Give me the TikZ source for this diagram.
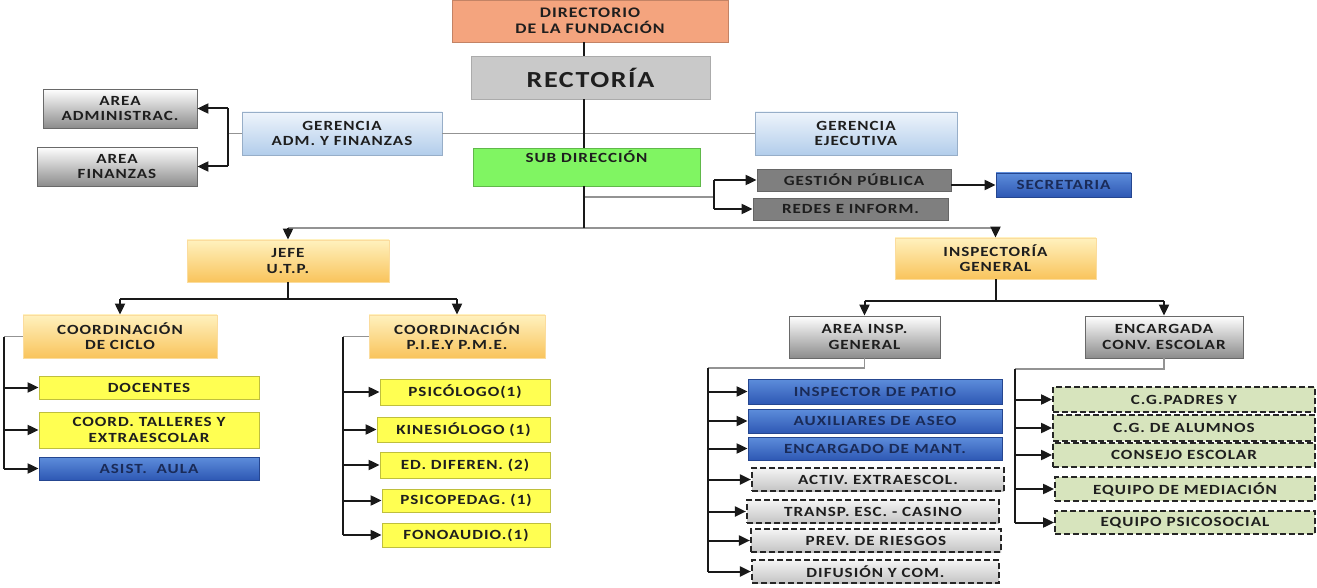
\documentclass[tikz,border=0pt]{standalone}
\usepackage{fontspec}
\setmainfont{Carlito}[FakeStretch=1.22, LetterSpace=7]
\usepackage{tikz}
\usetikzlibrary{arrows.meta}
\definecolor{dirorange}{HTML}{F4A47E}
\definecolor{recgray}{HTML}{C9C9C9}
\definecolor{gertop}{HTML}{EEF4FB}
\definecolor{gerbot}{HTML}{B2CDEB}
\definecolor{subgreen}{HTML}{80F562}
\definecolor{gpgray}{HTML}{7F7F7F}
\definecolor{bluetop}{HTML}{5D8DDB}
\definecolor{bluebot}{HTML}{2E58B4}
\definecolor{navytext}{HTML}{1A2B58}
\definecolor{otop}{HTML}{FFF1BE}
\definecolor{obot}{HTML}{F9C45C}
\definecolor{yel}{HTML}{FFFF52}
\definecolor{gbot}{HTML}{8C8C8C}
\definecolor{ltop}{HTML}{F4F4F4}
\definecolor{lbot}{HTML}{C4C4C4}
\definecolor{grn}{HTML}{D7E4BD}
\definecolor{textdark}{HTML}{1E1E1E}

\begin{document}
\begin{tikzpicture}[x=0.5pt, y=-0.5pt,
  base/.style={align=center, inner sep=1pt, line width=0.4pt, text=textdark,
    font=\fontsize{7}{7.6}\selectfont\bfseries},
  dirbox/.style={base, fill=dirorange, draw=dirorange!80!black,
    font=\fontsize{7.3}{7.8}\selectfont\bfseries},
  recbox/.style={base, fill=recgray, draw=recgray!85!black,
    font=\fontsize{11.5}{12}\selectfont\bfseries},
  gerbox/.style={base, top color=gertop, bottom color=gerbot, draw=gerbot!85!black},
  subbox/.style={base, fill=subgreen, draw=subgreen!75!black, text height=5pt, text depth=9pt},
  gpbox/.style={base, fill=gpgray, draw=gpgray!80!black},
  bluebox/.style={base, top color=bluetop, bottom color=bluebot, draw=bluebot!80!black, text=navytext},
  obox/.style={base, top color=otop, bottom color=obot, draw=obot!60!white},
  ybox/.style={base, fill=yel, draw=yel!75!black},
  gbox/.style={base, top color=white, bottom color=gbot, draw=gbot!75!black},
  dbox/.style={base, top color=ltop, bottom color=lbot, draw=black!85, line width=1.1pt,
    dash pattern=on 3pt off 1.5pt},
  grbox/.style={base, fill=grn, draw=black!85, line width=0.9pt,
    dash pattern=on 3pt off 1.5pt},
  conn/.style={line width=1pt, draw=black!90},
  thin/.style={line width=0.6pt, draw=gray!85},
  arr/.style={conn, -{Triangle[length=5.5pt,width=5pt]}}]
\useasboundingbox (0,0) rectangle (1317,588);
% Top levels
\node[dirbox, minimum width=138pt, minimum height=21pt] (dir) at (590,21) {DIRECTORIO\\DE LA FUNDACIÓN};
\node[recbox, minimum width=119.5pt, minimum height=21.5pt] (rec) at (590.5,77.5) {RECTORÍA};
\node[gerbox, minimum width=100pt, minimum height=21.5pt] (gadm) at (342,133.5) {GERENCIA\\ADM. Y FINANZAS};
\node[gerbox, minimum width=101pt, minimum height=21.5pt] (gej) at (856,133.5) {GERENCIA\\EJECUTIVA};
\node[gbox, minimum width=77pt, minimum height=19.5pt] (aadm) at (120,108.5) {AREA\\ADMINISTRAC.};
\node[gbox, minimum width=80pt, minimum height=19.5pt] (afin) at (117,166.5) {AREA\\FINANZAS};
\node[subbox, minimum width=113.5pt, minimum height=19pt] (sub) at (586.5,167) {SUB DIRECCIÓN};
\node[gpbox, minimum width=97pt, minimum height=11pt] (gp) at (854,180) {GESTIÓN PÚBLICA};
\node[gpbox, minimum width=97.5pt, minimum height=11pt] (redes) at (850.5,209) {REDES E INFORM.};
\node[bluebox, minimum width=67.5pt, minimum height=12pt] (secr) at (1063.5,185) {SECRETARIA};
% Second level
\node[obox, minimum width=101pt, minimum height=21pt] (jefe) at (288,261) {JEFE\\U.T.P.};
\node[obox, minimum width=100.5pt, minimum height=20.5pt] (insp) at (995.5,258.5) {INSPECTORÍA\\GENERAL};
\node[obox, minimum width=97pt, minimum height=21.5pt] (ciclo) at (120,336.5) {COORDINACIÓN\\DE CICLO};
\node[obox, minimum width=88pt, minimum height=21.5pt] (pie) at (457,336.5) {COORDINACIÓN\\P.I.E.Y P.M.E.};
\node[gbox, minimum width=75.5pt, minimum height=21pt] (ainsp) at (864.5,337) {AREA INSP.\\GENERAL};
\node[gbox, minimum width=79pt, minimum height=21pt] (enc) at (1164,337) {ENCARGADA\\CONV. ESCOLAR};
% U.T.P. units
\node[ybox, minimum width=110pt, minimum height=11.5pt] (doc) at (149,387.5) {DOCENTES};
\node[ybox, minimum width=110pt, minimum height=18pt] (tall) at (149,430) {COORD. TALLERES Y\\EXTRAESCOLAR};
\node[bluebox, minimum width=110pt, minimum height=11.5pt] (asist) at (149,468.5) {ASIST.~~AULA};
\node[ybox, minimum width=85pt, minimum height=13pt] (psic) at (465,392) {PSICÓLOGO(1)};
\node[ybox, minimum width=86.5pt, minimum height=12.5pt] (kine) at (463.5,429.5) {KINESIÓLOGO (1)};
\node[ybox, minimum width=85pt, minimum height=13pt] (edd) at (465,465) {ED. DIFEREN. (2)};
\node[ybox, minimum width=84pt, minimum height=11.5pt] (psicop) at (466,500.5) {PSICOPEDAG. (1)};
\node[ybox, minimum width=84pt, minimum height=12pt] (fono) at (466,535) {FONOAUDIO.(1)};
% Inspectoria units
\node[bluebox, minimum width=127pt, minimum height=12.5pt] (ipat) at (875,391.5) {INSPECTOR DE PATIO};
\node[bluebox, minimum width=127pt, minimum height=12pt] (aux) at (875,421) {AUXILIARES DE ASEO};
\node[bluebox, minimum width=127pt, minimum height=11.5pt] (mant) at (875,448.5) {ENCARGADO DE MANT.};
\node[dbox, minimum width=126pt, minimum height=11.5pt] (activ) at (878,479.5) {ACTIV. EXTRAESCOL.};
\node[dbox, minimum width=126pt, minimum height=11.5pt] (transp) at (873,511.5) {TRANSP. ESC. - CASINO};
\node[dbox, minimum width=125pt, minimum height=11.5pt] (prev) at (876,540.5) {PREV. DE RIESGOS};
\node[dbox, minimum width=123.5pt, minimum height=11.5pt] (difu) at (875.5,571.5) {DIFUSIÓN Y COM.};
\node[grbox, minimum width=131pt, minimum height=12.5pt] (cgp) at (1184,399.5) {C.G.PADRES Y};
\node[grbox, minimum width=131pt, minimum height=13pt] (cga) at (1184,428) {C.G. DE ALUMNOS};
\node[grbox, minimum width=131pt, minimum height=12pt] (cons) at (1184,455) {CONSEJO ESCOLAR};
\node[grbox, minimum width=130pt, minimum height=12pt] (med) at (1185,489) {EQUIPO DE MEDIACIÓN};
\node[grbox, minimum width=130pt, minimum height=11.5pt] (psoc) at (1185,522.5) {EQUIPO PSICOSOCIAL};
% Junction points
\coordinate (spine) at (584,228);
\coordinate (gbr) at (228,137);
\coordinate (sbr) at (714,197);
\coordinate (jbr) at (286,299);
\coordinate (cbr) at (4,338);
\coordinate (pbr) at (343,343);
\coordinate (ibr) at (993,301);
\coordinate (abr) at (708,368);
\coordinate (ebr) at (1015,369);
% Thin gray lines
\draw[thin] (gadm.east) -- (gej.west);
\draw[thin] (sbr -| spine) -- (sbr);
\draw[thin] (jefe.north |- spine) -- (insp.north |- spine);
% Main spine
\draw[conn] (dir.south -| spine) -- (rec.north -| spine);
\draw[conn] (rec.south -| spine) -- (sub.north -| spine);
\draw[conn] (sub.south -| spine) -- (spine);
% Gerencia adm. branch
\draw[thin] (gadm.west) -- (gadm.west -| gbr);
\draw[conn] (aadm.east -| gbr) -- (afin.east -| gbr);
\foreach \n in {aadm,afin}
  \draw[arr] (\n.east -| gbr) -- (\n.east);
% Sub direccion branch
\draw[conn] (gp.west -| sbr) -- (redes.west -| sbr);
\foreach \n in {gp,redes}
  \draw[arr] (\n.west -| sbr) -- (\n.west);
\draw[arr] (gp.east |- secr.west) -- (secr.west);
% Down to U.T.P. and Inspectoria
\draw[arr] (jefe.north |- spine) -- (jefe.north);
\draw[arr] (insp.north |- spine) -- (insp.north);
% U.T.P. branch
\draw[conn] (jefe.south) -- (jefe.south |- jbr);
\draw[conn] (ciclo.north |- jbr) -- (pie.north |- jbr);
\foreach \n in {ciclo,pie}
  \draw[arr] (\n.north |- jbr) -- (\n.north);
\draw[thin] (ciclo.west) -- (ciclo.west -| cbr);
\draw[conn] (ciclo.west -| cbr) -- (asist.west -| cbr);
\foreach \n in {doc,tall,asist}
  \draw[arr] (\n.west -| cbr) -- (\n.west);
\draw[thin] (pie.west) -- (pie.west -| pbr);
\draw[conn] (pie.west -| pbr) -- (fono.west -| pbr);
\foreach \n in {psic,kine,edd,psicop,fono}
  \draw[arr] (\n.west -| pbr) -- (\n.west);
% Inspectoria branch
\draw[conn] (insp.south) -- (insp.south |- ibr);
\draw[conn] (ainsp.north |- ibr) -- (enc.north |- ibr);
\foreach \n in {ainsp,enc}
  \draw[arr] (\n.north |- ibr) -- (\n.north);
\draw[thin] (ainsp.south) -- (ainsp.south |- abr) -- (abr);
\draw[conn] (abr) -- (difu.west -| abr);
\foreach \n in {ipat,aux,mant,activ,transp,prev,difu}
  \draw[arr] (\n.west -| abr) -- (\n.west);
\draw[thin] (enc.south) -- (enc.south |- ebr) -- (ebr);
\draw[conn] (ebr) -- (psoc.west -| ebr);
\foreach \n in {cgp,cga,cons,med,psoc}
  \draw[arr] (\n.west -| ebr) -- (\n.west);
\end{tikzpicture}
\end{document}
